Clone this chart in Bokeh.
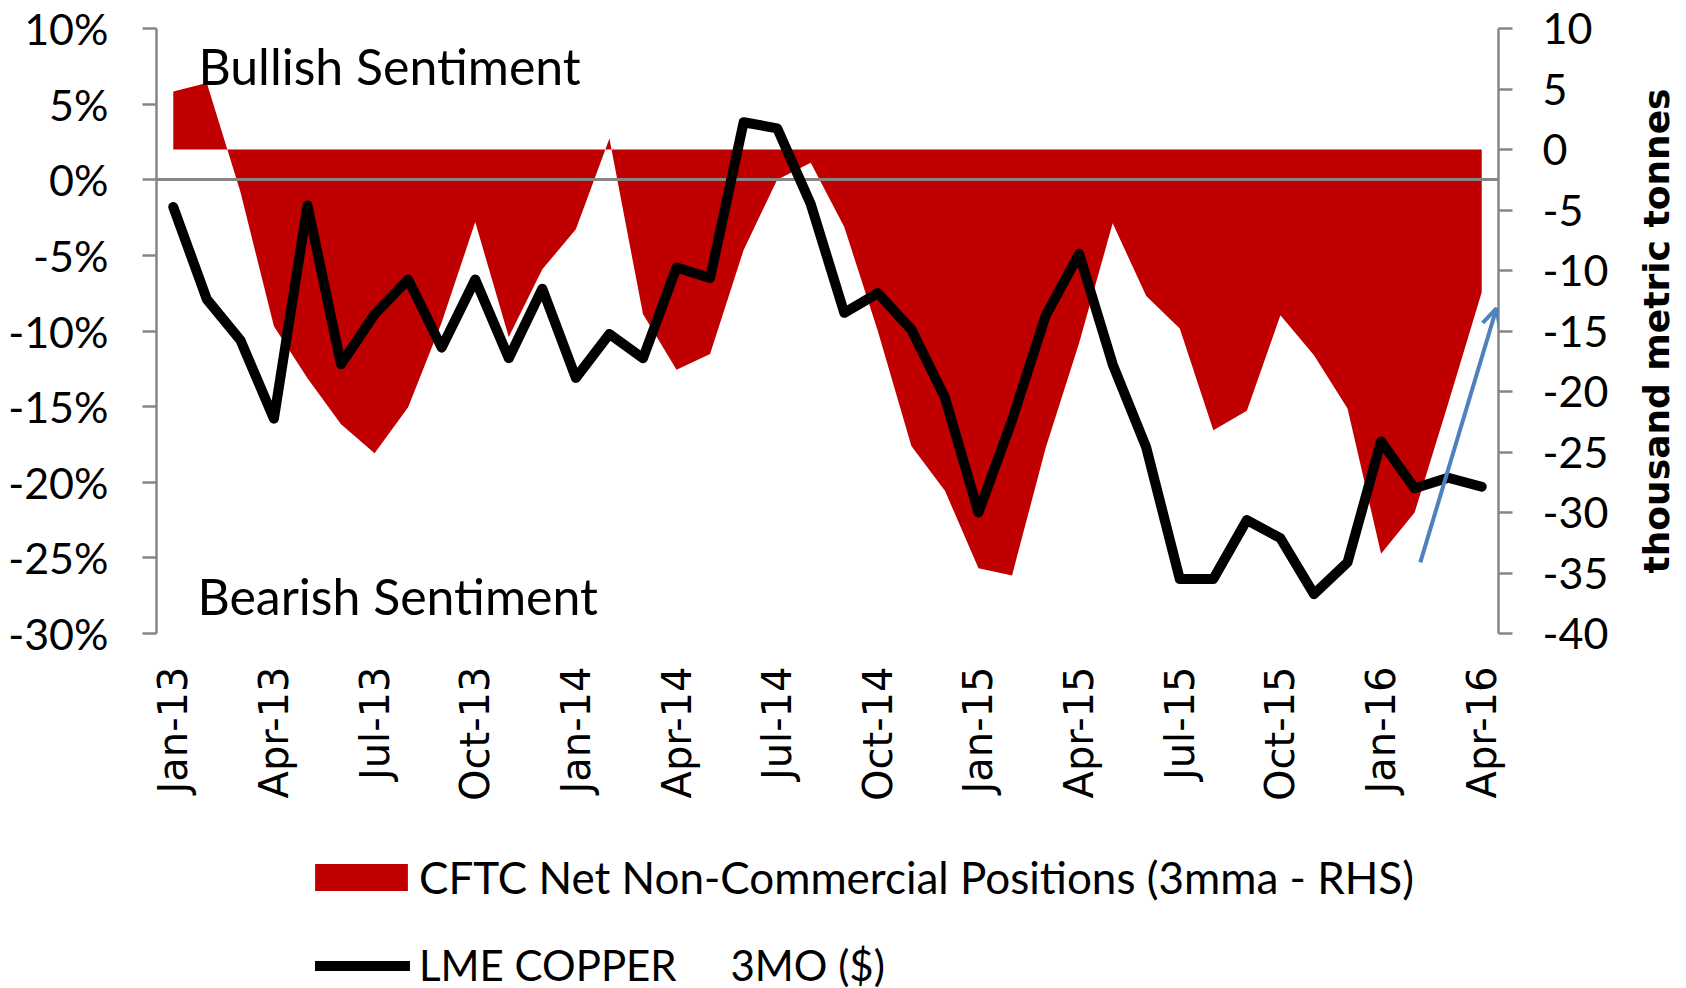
import math
from bokeh.plotting import figure
from bokeh.layouts import column, row
from bokeh.models import (Range1d, LinearAxis, FixedTicker, PrintfTickFormatter,
                          Legend, LegendItem, Label, Arrow, OpenHead)
from bokeh.embed import file_html
from bokeh.resources import INLINE

# ---------------- data ----------------
months = ["Jan-13", "Feb-13", "Mar-13", "Apr-13", "May-13", "Jun-13", "Jul-13", "Aug-13",
          "Sep-13", "Oct-13", "Nov-13", "Dec-13", "Jan-14", "Feb-14", "Mar-14", "Apr-14",
          "May-14", "Jun-14", "Jul-14", "Aug-14", "Sep-14", "Oct-14", "Nov-14", "Dec-14",
          "Jan-15", "Feb-15", "Mar-15", "Apr-15", "May-15", "Jun-15", "Jul-15", "Aug-15",
          "Sep-15", "Oct-15", "Nov-15", "Dec-15", "Jan-16", "Feb-16", "Mar-16", "Apr-16"]

# CFTC net non-commercial positions, 3mma (thousand metric tonnes, RHS)
cftc = [4.8, 5.5, -3.5, -14.6, -18.9, -22.7, -25.1, -21.3, -14.3, -6.0,
        -15.5, -9.9, -6.6, 0.9, -13.6, -18.2, -16.9, -8.3, -2.5, -1.1,
        -6.4, -15.0, -24.5, -28.2, -34.6, -35.2, -24.7, -16.0, -6.1, -12.1,
        -14.8, -23.2, -21.6, -13.7, -17.0, -21.4, -33.4, -30.0, -21.0, -11.8]

# LME copper 3MO ($), % change (LHS)
lme = [-1.8, -7.9, -10.6, -15.8, -1.7, -12.2, -8.9, -6.6, -11.1, -6.6,
       -11.8, -7.2, -13.1, -10.2, -11.8, -5.8, -6.5, 3.8, 3.4, -1.6,
       -8.8, -7.5, -9.9, -14.4, -22.0, -15.9, -9.0, -4.9, -12.2, -17.7,
       -26.4, -26.4, -22.5, -23.7, -27.4, -25.3, -17.3, -20.4, -19.7, -20.3]

left_ticks = [-30, -25, -20, -15, -10, -5, 0, 5, 10]
right_ticks = [-40, -35, -30, -25, -20, -15, -10, -5, 0, 5, 10]

cftc_label = "CFTC Net Non-Commercial Positions (3mma - RHS)"
lme_label = "LME COPPER\u00a0\u00a0\u00a0\u00a0 3MO ($)"
rhs_title = "thousand metric tonnes"

x = list(range(len(months)))
tick_idx = [i for i, m in enumerate(months) if m[:3] in ("Jan", "Apr", "Jul", "Oct")]

# ---------------- styling ----------------
RED = "#C00000"
GREY = "#868686"
BLUE = "#4F81BD"
CAL = "Lato"
TICK_FS = "43px"

MAIN_W, MAIN_H, TOTAL_W, TOTAL_H = 1620, 830, 1686, 988
B_LEFT, B_TOP, B_BOTTOM = 156, 28, 197
FRAME_RIGHT = 1498

p = figure(width=MAIN_W, height=MAIN_H, output_backend="svg", toolbar_location=None,
           x_range=Range1d(-0.5, len(months) - 0.5), y_range=Range1d(-30, 10),
           min_border_left=B_LEFT, min_border_right=MAIN_W - FRAME_RIGHT, min_border_top=B_TOP,
           min_border_bottom=B_BOTTOM, x_axis_location=None, y_axis_location=None)
p.outline_line_color = None
p.grid.visible = False
p.extra_y_ranges = {"rhs": Range1d(-40, 10)}

# area (RHS)
area = p.varea(x=x, y1=[0] * len(x), y2=cftc, y_range_name="rhs", fill_color=RED)
# zero line of the category axis
p.hspan(y=[0], line_color=GREY, line_width=3)
# copper line (LHS)
ln = p.line(x=x, y=lme, line_color="black", line_width=10, line_join="round", line_cap="round")

# left axis
la = LinearAxis(ticker=FixedTicker(ticks=left_ticks), formatter=PrintfTickFormatter(format="%d%%"))
# right axis
ra = LinearAxis(y_range_name="rhs", ticker=FixedTicker(ticks=right_ticks),
                formatter=PrintfTickFormatter(format="%d"))
for ax, standoff in ((la, 34), (ra, 30)):
    ax.axis_line_color = GREY
    ax.axis_line_width = 2.5
    ax.major_tick_line_color = GREY
    ax.major_tick_line_width = 2.5
    ax.major_tick_out = 14
    ax.major_tick_in = 0
    ax.minor_tick_out = 0
    ax.minor_tick_in = 0
    ax.major_label_standoff = standoff
    ax.major_label_text_font = CAL
    ax.major_label_text_font_size = TICK_FS
    ax.major_label_text_color = "black"
p.add_layout(la, "left")
p.add_layout(ra, "right")

# bottom axis (labels only)
ba = LinearAxis(ticker=FixedTicker(ticks=tick_idx),
                major_label_overrides={i: months[i] for i in tick_idx})
ba.axis_line_color = None
ba.major_tick_line_color = None
ba.minor_tick_line_color = None
ba.major_tick_out = 0
ba.major_tick_in = 0
ba.major_label_orientation = math.pi / 2
ba.major_label_standoff = 33
ba.major_label_text_font = "DejaVu Sans"
ba.major_label_text_font_size = "40px"
ba.major_label_text_color = "black"
p.add_layout(ba, "below")

# sentiment annotations
p.add_layout(Label(x=0.75, y=7.55, text="Bullish Sentiment", text_font=CAL,
                   text_font_size="50px", text_color="black", text_baseline="alphabetic"))
p.add_layout(Label(x=0.72, y=-27.5, text="Bearish Sentiment", text_font=CAL,
                   text_font_size="50px", text_color="black", text_baseline="alphabetic"))

# blue arrow
arrow_start = (37.17, -25.3)
arrow_end = (39.44, -8.5)
p.add_layout(Arrow(end=OpenHead(size=18, line_color=BLUE, line_width=4),
                   x_start=arrow_start[0], y_start=arrow_start[1],
                   x_end=arrow_end[0], y_end=arrow_end[1],
                   line_color=BLUE, line_width=4))

# ---------------- right-hand axis title panel ----------------
tf = figure(width=TOTAL_W - MAIN_W, height=MAIN_H, output_backend="svg", toolbar_location=None,
            x_range=Range1d(0, 1), y_range=Range1d(0, 1),
            min_border_left=0, min_border_right=0, min_border_top=B_TOP, min_border_bottom=B_BOTTOM,
            x_axis_location=None, y_axis_location=None)
tf.outline_line_color = None
tf.grid.visible = False
tf.add_layout(Label(x=0.545, y=0.5, text=rhs_title, angle=math.pi / 2,
                    text_font="DejaVu Sans", text_font_style="bold", text_font_size="36px",
                    text_color="black", text_align="center", text_baseline="middle"))

# ---------------- legend panel ----------------
lg = figure(width=TOTAL_W, height=TOTAL_H - MAIN_H, output_backend="svg", toolbar_location=None,
            x_range=Range1d(-0.5, len(months) - 0.5), y_range=Range1d(1000, 1001),
            min_border_left=B_LEFT, min_border_right=TOTAL_W - FRAME_RIGHT,
            min_border_top=0, min_border_bottom=0,
            x_axis_location=None, y_axis_location=None)
lg.outline_line_color = None
lg.grid.visible = False
# same series drawn off-range: only their legend swatches are visible here
sw_area = lg.varea(x=x, y1=[0] * len(x), y2=cftc, fill_color=RED)
sw_line = lg.line(x=x, y=lme, line_color="black", line_width=10, line_cap="round")

legend_style = dict(orientation="vertical", padding=0, margin=0, border_line_color=None,
                    background_fill_alpha=0, label_text_font=CAL, label_text_color="black")
leg_area = Legend(items=[LegendItem(label=cftc_label, renderers=[sw_area])],
                  location=(147, 85), glyph_width=116, glyph_height=34, label_height=27,
                  label_standoff=0, label_text_font_size="44px", **legend_style)
leg_line = Legend(items=[LegendItem(label=lme_label, renderers=[sw_line])],
                  location=(159, -2), glyph_width=95, glyph_height=27, label_height=27,
                  label_standoff=9, label_text_font_size="42px", **legend_style)
lg.add_layout(leg_area, "center")
lg.add_layout(leg_line, "center")

layout = column(row(p, tf, spacing=0), lg, spacing=0)
open("out.html", "w").write(file_html(layout, INLINE))
